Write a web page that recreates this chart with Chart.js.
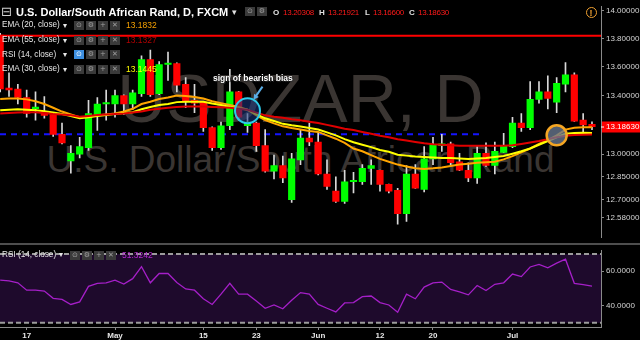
<!DOCTYPE html>
<html><head><meta charset="utf-8">
<script src="https://cdn.jsdelivr.net/npm/chart.js@4.4.1/dist/chart.umd.min.js"></script>
<style>
html,body{margin:0;padding:0;background:#fff;width:640px;height:343px;overflow:hidden;}
#wrap{position:relative;width:640px;height:340px;background:#000;overflow:hidden;font-family:"Liberation Sans",Arial,sans-serif;}
canvas{position:absolute;left:0;}
#priceCanvas{top:0;z-index:1;}
#rsiCanvas{top:244px;z-index:1;}
.t{position:absolute;white-space:nowrap;z-index:3;}
.wm{position:absolute;left:0;width:601px;text-align:center;color:#3a3532;z-index:0;white-space:nowrap;}
.ib{position:absolute;width:10px;height:9px;background:#3a3a3a;color:#a0a0a0;font-family:"DejaVu Sans",sans-serif;font-size:7px;line-height:9px;text-align:center;z-index:3;}
#sep{position:absolute;left:0;top:243px;width:640px;height:2px;background:#4e4e4e;z-index:2;}
</style></head><body>
<div id="wrap">
 <div class="wm" style="font-size:68px;line-height:68px;top:64px;">USDZAR, D</div>
 <div class="wm" style="font-size:37px;line-height:37px;top:141px;">U.S. Dollar/South African Rand</div>
 <canvas id="priceCanvas" width="640" height="244"></canvas>
 <canvas id="rsiCanvas" width="640" height="96"></canvas>
 <div id="sep"></div>
</div>
<script>
// ---------------- data ----------------
const dates = ['2017-04-12','2017-04-13','2017-04-14','2017-04-17','2017-04-18','2017-04-19','2017-04-20','2017-04-21','2017-04-24','2017-04-25','2017-04-26','2017-04-27','2017-04-28','2017-05-01','2017-05-02','2017-05-03','2017-05-04','2017-05-05','2017-05-08','2017-05-09','2017-05-10','2017-05-11','2017-05-12','2017-05-15','2017-05-16','2017-05-17','2017-05-18','2017-05-19','2017-05-22','2017-05-23','2017-05-24','2017-05-25','2017-05-26','2017-05-29','2017-05-30','2017-05-31','2017-06-01','2017-06-02','2017-06-05','2017-06-06','2017-06-07','2017-06-08','2017-06-09','2017-06-12','2017-06-13','2017-06-14','2017-06-15','2017-06-16','2017-06-19','2017-06-20','2017-06-21','2017-06-22','2017-06-23','2017-06-26','2017-06-27','2017-06-28','2017-06-29','2017-06-30','2017-07-03','2017-07-04','2017-07-05','2017-07-06','2017-07-07','2017-07-10','2017-07-11','2017-07-12','2017-07-13','2017-07-14'];

const openP = [13.825,13.452,13.446,13.387,13.310,13.290,13.270,13.134,12.956,13.001,13.045,13.270,13.342,13.342,13.400,13.342,13.413,13.651,13.413,13.617,13.624,13.479,13.368,13.355,13.180,13.045,13.193,13.426,13.193,13.212,13.058,12.887,12.925,12.699,12.962,13.109,13.083,12.868,12.755,12.687,12.817,12.817,12.906,12.893,12.799,12.761,12.607,12.868,12.767,12.969,13.058,13.070,12.950,12.893,12.843,13.007,12.925,13.013,13.052,13.212,13.180,13.374,13.426,13.355,13.479,13.545,13.231,13.20308];
const highP = [13.838,13.558,13.479,13.439,13.426,13.394,13.277,13.212,13.058,13.115,13.368,13.387,13.439,13.439,13.406,13.439,13.678,13.718,13.637,13.704,13.628,13.525,13.479,13.358,13.186,13.218,13.584,13.430,13.277,13.218,13.167,12.994,12.988,13.007,13.167,13.212,13.147,12.962,12.849,12.893,12.880,12.931,12.962,12.895,12.801,12.774,12.925,12.931,13.052,13.115,13.134,13.083,13.007,12.943,13.052,13.077,13.083,13.141,13.251,13.277,13.498,13.498,13.538,13.525,13.631,13.558,13.277,13.21921];
const lowP = [13.426,13.394,13.342,13.251,13.231,13.244,13.121,13.070,12.874,12.975,13.026,13.161,13.231,13.251,13.270,13.303,13.394,13.394,13.406,13.505,13.426,13.316,13.283,13.154,13.026,13.032,13.167,13.231,13.147,13.020,12.880,12.836,12.811,12.681,12.931,13.058,12.862,12.767,12.681,12.674,12.743,12.799,12.799,12.755,12.743,12.539,12.557,12.772,12.749,12.931,13.020,12.931,12.891,12.817,12.805,12.918,12.868,13.011,13.045,13.154,13.167,13.348,13.309,13.283,13.426,13.223,13.147,13.16600];
const closeP = [13.446,13.439,13.387,13.277,13.316,13.264,13.134,13.077,13.007,13.052,13.277,13.342,13.348,13.400,13.342,13.419,13.651,13.406,13.617,13.624,13.472,13.361,13.348,13.180,13.045,13.193,13.426,13.251,13.218,13.058,12.887,12.925,12.843,12.969,13.109,13.083,12.868,12.786,12.687,12.817,12.824,12.906,12.925,12.799,12.755,12.607,12.868,12.774,12.969,13.064,13.070,12.943,12.893,12.843,13.007,12.925,13.020,13.058,13.212,13.180,13.374,13.426,13.381,13.485,13.545,13.225,13.199,13.18630];

const ema20 = [13.377,13.380,13.380,13.374,13.361,13.342,13.316,13.290,13.270,13.251,13.254,13.264,13.270,13.277,13.290,13.309,13.342,13.358,13.377,13.387,13.400,13.397,13.390,13.380,13.361,13.348,13.335,13.322,13.303,13.264,13.231,13.209,13.189,13.177,13.167,13.157,13.151,13.128,13.105,13.077,13.039,13.020,12.994,12.969,12.950,12.931,12.918,12.906,12.902,12.906,12.912,12.921,12.931,12.937,12.943,12.947,12.950,12.966,12.988,13.013,13.039,13.070,13.096,13.128,13.167,13.180,13.183,13.1832];
const ema30 = [13.299,13.303,13.306,13.303,13.299,13.293,13.283,13.273,13.260,13.244,13.251,13.260,13.267,13.273,13.280,13.286,13.306,13.322,13.335,13.342,13.355,13.358,13.358,13.358,13.345,13.335,13.322,13.312,13.303,13.273,13.244,13.225,13.206,13.196,13.188,13.177,13.167,13.148,13.128,13.102,13.081,13.064,13.048,13.029,13.017,12.997,12.991,12.985,12.981,12.978,12.975,12.975,12.972,12.969,12.972,12.975,12.981,12.988,13.004,13.020,13.039,13.064,13.089,13.115,13.138,13.144,13.145,13.1445];
const ema55 = [13.277,13.280,13.283,13.286,13.286,13.280,13.273,13.270,13.264,13.254,13.260,13.267,13.270,13.273,13.277,13.283,13.290,13.303,13.309,13.316,13.322,13.325,13.325,13.325,13.322,13.319,13.316,13.309,13.303,13.283,13.264,13.254,13.248,13.238,13.231,13.221,13.212,13.199,13.186,13.173,13.164,13.151,13.138,13.125,13.115,13.102,13.093,13.083,13.074,13.067,13.064,13.061,13.058,13.058,13.058,13.058,13.058,13.058,13.061,13.070,13.080,13.089,13.102,13.115,13.125,13.130,13.132,13.1327];
const rsi14 = [54.8,54.4,53.3,49.0,49.0,48.5,44.3,43.6,40.7,42.2,51.2,53.0,53.3,54.8,52.6,55.7,62.7,53.3,58.7,58.7,53.5,49.7,49.0,44.0,40.7,46.7,53.0,46.7,46.7,42.7,38.5,40.4,38.2,43.1,47.6,46.7,40.7,38.5,36.4,41.6,41.8,45.2,45.6,41.8,40.4,36.2,46.7,44.0,50.8,53.3,53.7,49.4,48.0,46.3,51.7,48.8,52.4,53.3,58.4,56.9,62.5,64.0,62.0,64.7,67.0,53.0,52.2,51.3];

const priceTicks = [14.0, 13.8, 13.6, 13.4, 13.0, 12.85, 12.70, 12.58];
const rsiTicks = [60, 40];
const rsiBands = [70, 30];
const dateTickDates = ['2017-04-17','2017-05-01','2017-05-15','2017-05-23','2017-06-01','2017-06-12','2017-06-20','2017-07-03'];
const dateTickLabels = ['17','May','15','23','Jun','12','20','Jul'];
const resistanceLevel = 13.82;
const supportLevel = 13.135;
const supportEndDate = '2017-06-27';
const bearishMark = {date:'2017-05-22', value:13.296};
const crossMark = {date:'2017-07-10', value:13.128};
const legendValues = {ema20:'13.1832', ema55:'13.1327', ema30:'13.1445', rsi:'51.3242'};
const ohlcLast = ['13.20308','13.21921','13.16600','13.18630'];

// ---------------- layout helpers ----------------
const wrap = document.getElementById('wrap');
const FONT = '"Liberation Sans", Arial, sans-serif';
function txt(s, x, base, size, color, weight, extra){
  const d = document.createElement('div');
  d.className = 't';
  d.textContent = s;
  d.style.left = x + 'px';
  d.style.fontSize = size + 'px';
  d.style.lineHeight = size + 'px';
  d.style.top = (base - 0.8465*size) + 'px';
  d.style.color = color;
  if (weight) d.style.fontWeight = weight;
  if (extra) Object.assign(d.style, extra);
  wrap.appendChild(d);
  return d;
}
function ibox(x, y, glyph, bg, col){
  const d = document.createElement('div');
  d.className = 'ib';
  d.style.left = x + 'px'; d.style.top = y + 'px';
  if (bg) d.style.background = bg;
  if (col) d.style.color = col;
  d.textContent = glyph;
  wrap.appendChild(d);
}
const glyphs = ['\u2299','\u2699','+','\u2715'];
const tight = {letterSpacing:'-0.3px'};

// header
txt('\u229F', 1, 16.5, 13, '#d0d0d0', 'normal', {fontFamily:'"DejaVu Sans",sans-serif'});
txt('U.S. Dollar/South African Rand, D, FXCM', 16, 16.5, 11, '#ffffff', 'bold');
txt('\u25BE', 232, 16, 9, '#e0e0e0');
ibox(245, 7, '\u2299'); ibox(257, 7, '\u2699');
txt('O', 273, 15.5, 8, '#e0e0e0', 'bold'); txt(ohlcLast[0], 283, 15.5, 8, '#ff1a1a', null, tight);
txt('H', 319, 15.5, 8, '#e0e0e0', 'bold'); txt(ohlcLast[1], 328, 15.5, 8, '#ff1a1a', null, tight);
txt('L', 365, 15.5, 8, '#e0e0e0', 'bold'); txt(ohlcLast[2], 373, 15.5, 8, '#ff1a1a', null, tight);
txt('C', 409, 15.5, 8, '#e0e0e0', 'bold'); txt(ohlcLast[3], 418, 15.5, 8, '#ff1a1a', null, tight);
const warn = txt('!', 585.5, 16, 9, '#f0a030', 'bold', {width:'11px',height:'11px',lineHeight:'11px',textAlign:'center',border:'1.5px solid #f0a030',borderRadius:'50%',boxSizing:'border-box'});
warn.style.top = '6.5px';

// indicator legends
const rows = [
  ['EMA (20, close)', 28.3, legendValues.ema20, '#f5a000'],
  ['EMA (55, close)', 43.3, legendValues.ema55, '#b00000'],
  ['RSI (14, close)', 57.5, null, null],
  ['EMA (30, close)', 72, legendValues.ema30, '#ffff00']
];
rows.forEach((r, k) => {
  txt(r[0], 2, r[1], 8.2, '#e6e6e6');
  txt('\u25BE', 63, r[1], 7.5, '#e6e6e6');
  glyphs.forEach((g, j) => ibox(74 + 12*j, r[1] - 7.3, g, (k === 2 && j === 0) ? '#3d8fe0' : null, (k === 2 && j === 0) ? '#ffffff' : null));
  if (r[2]) txt(r[2], 126, r[1], 8.5, r[3]);
});
// RSI pane legend
txt('RSI (14, close)', 2, 257.7, 8.2, '#e6e6e6');
txt('\u25BE', 59, 257.7, 7.5, '#e6e6e6');
glyphs.forEach((g, j) => ibox(70 + 12*j, 250.5, g));
txt(legendValues.rsi, 122, 257.7, 8.5, '#b428d0');
// annotation
txt('sign of bearish bias', 213, 81.5, 8.5, '#ffffff', 'bold', {textShadow:'0 0 2px #000, 1px 1px 1px #333'});

// ---------------- charts ----------------
const N = dates.length;
const X_MIN = -0.02, X_MAX = 68.02;
const fixW = s => { s.width = 39; };
const tickFont = {family: FONT, size: 8};

const bodies = dates.map((d, i) => ({x: i, y: [openP[i], closeP[i]]}));
const wicks = dates.map((d, i) => ({x: i, y: [lowP[i], highP[i]]}));
const bodyColors = dates.map((d, i) => closeP[i] >= openP[i] ? '#00ff00' : '#ff0000');
const series = arr => arr.map((v, i) => ({x: i, y: v}));

const pricePlugin = {
  id: 'pricePlugin',
  beforeDatasetsDraw(chart){
    const {ctx, chartArea: a, scales: {x, y}} = chart;
    ctx.save();
    const yr = y.getPixelForValue(resistanceLevel);
    ctx.strokeStyle = '#ff0000'; ctx.lineWidth = 2;
    ctx.beginPath(); ctx.moveTo(a.left, yr); ctx.lineTo(a.right, yr); ctx.stroke();
    const ys = y.getPixelForValue(supportLevel);
    ctx.strokeStyle = '#1414ff'; ctx.lineWidth = 2; ctx.setLineDash([6, 5]);
    ctx.beginPath(); ctx.moveTo(a.left, ys); ctx.lineTo(x.getPixelForValue(dates.indexOf(supportEndDate)) + 3, ys); ctx.stroke();
    ctx.restore();
  },
  afterDatasetsDraw(chart){
    const {ctx, scales: {x, y}} = chart;
    ctx.save();
    const cx = x.getPixelForValue(dates.indexOf(bearishMark.date));
    const cy = y.getPixelForValue(bearishMark.value);
    ctx.beginPath(); ctx.arc(cx, cy, 12.5, 0, Math.PI*2);
    ctx.fillStyle = 'rgba(25,55,130,0.55)'; ctx.fill();
    ctx.strokeStyle = '#2ccbea'; ctx.lineWidth = 2; ctx.stroke();
    const tx = cx + 6, ty = cy - 11, sx = cx + 15, sy = cy - 24;
    ctx.strokeStyle = '#5aaee6'; ctx.fillStyle = '#5aaee6'; ctx.lineWidth = 2;
    ctx.beginPath(); ctx.moveTo(sx, sy); ctx.lineTo(tx + 2, ty - 3); ctx.stroke();
    const ang = Math.atan2(ty - sy, tx - sx);
    ctx.beginPath(); ctx.moveTo(tx, ty);
    ctx.lineTo(tx - 6*Math.cos(ang - 0.5), ty - 6*Math.sin(ang - 0.5));
    ctx.lineTo(tx - 6*Math.cos(ang + 0.5), ty - 6*Math.sin(ang + 0.5));
    ctx.closePath(); ctx.fill();
    const qx = x.getPixelForValue(dates.indexOf(crossMark.date));
    const qy = y.getPixelForValue(crossMark.value);
    ctx.beginPath(); ctx.arc(qx, qy, 10, 0, Math.PI*2);
    ctx.fillStyle = 'rgba(105,120,145,0.78)'; ctx.fill();
    ctx.strokeStyle = '#f5a623'; ctx.lineWidth = 2.5; ctx.stroke();
    ctx.restore();
  },
  afterDraw(chart){
    const {ctx, chartArea: a, scales: {y}} = chart;
    const v = closeP[N - 1];
    const py = y.getPixelForValue(v);
    ctx.save();
    ctx.fillStyle = '#ff0000';
    ctx.fillRect(a.right + 1, Math.round(py) - 5.5, 39, 11);
    ctx.fillStyle = '#ffffff'; ctx.fillRect(a.right, Math.round(py) - 0.5, 3, 1);
    ctx.font = '8px ' + FONT; ctx.textAlign = 'left'; ctx.textBaseline = 'middle';
    ctx.fillText(v.toFixed(5), a.right + 5, py + 0.5);
    ctx.restore();
  }
};

new Chart(document.getElementById('priceCanvas'), {
  type: 'bar',
  data: {
    datasets: [
      {type: 'line', label: 'EMA 55', data: series(ema55), borderColor: '#e00000', borderWidth: 2, pointRadius: 0, order: 0},
      {type: 'line', label: 'EMA 30', data: series(ema30), borderColor: '#ffff00', borderWidth: 2, pointRadius: 0, order: 0},
      {type: 'line', label: 'EMA 20', data: series(ema20), borderColor: '#ffa500', borderWidth: 2, pointRadius: 0, order: 0},
      {label: 'body', data: bodies, backgroundColor: bodyColors, barThickness: 6.5, grouped: false, minBarLength: 1.5, order: 1},
      {label: 'wick', data: wicks, backgroundColor: '#d8d8d8', barThickness: 1, grouped: false, order: 2}
    ]
  },
  options: {
    responsive: false, animation: false, devicePixelRatio: 1,
    layout: {padding: 0},
    plugins: {legend: {display: false}, tooltip: {enabled: false}},
    scales: {
      x: {type: 'linear', min: X_MIN, max: X_MAX, offset: false, display: false, grid: {offset: false}},
      y: {
        type: 'logarithmic', position: 'right', min: 12.455, max: 14.029, beginAtZero: false,
        afterBuildTicks: s => { s.ticks = priceTicks.map(v => ({value: v})); },
        afterFit: fixW,
        ticks: {callback: v => Number(v).toFixed(5), color: '#d4d4d4', font: tickFont, padding: 2, autoSkip: false},
        grid: {drawOnChartArea: false, drawTicks: true, tickLength: 3, color: '#8a8a8a'},
        border: {display: true, color: '#8a8a8a', width: 1}
      }
    }
  },
  plugins: [pricePlugin]
});

const rsiPlugin = {
  id: 'rsiPlugin',
  beforeDatasetsDraw(chart){
    const {ctx, chartArea: a, scales: {y}} = chart;
    const y1 = y.getPixelForValue(rsiBands[0]), y2 = y.getPixelForValue(rsiBands[1]);
    ctx.save();
    ctx.fillStyle = '#1e0a2c';
    ctx.fillRect(a.left, y1, a.right - a.left, y2 - y1);
    ctx.strokeStyle = '#9c9c9c'; ctx.lineWidth = 2; ctx.setLineDash([5, 3]);
    [y1, y2].forEach(p => { ctx.beginPath(); ctx.moveTo(a.left, p); ctx.lineTo(a.right, p); ctx.stroke(); });
    ctx.restore();
  }
};

new Chart(document.getElementById('rsiCanvas'), {
  type: 'line',
  data: {datasets: [{label: 'RSI', data: series(rsi14), borderColor: '#a51fc8', borderWidth: 1.3, pointRadius: 0}]},
  options: {
    responsive: false, animation: false, devicePixelRatio: 1,
    layout: {padding: {top: 1, left: 0, right: 0, bottom: 0}},
    plugins: {legend: {display: false}, tooltip: {enabled: false}},
    scales: {
      x: {
        type: 'linear', min: X_MIN, max: X_MAX, offset: false,
        afterBuildTicks: s => { s.ticks = dateTickDates.map(d => ({value: dates.indexOf(d)})); },
        afterFit: s => { s.height = 13; },
        ticks: {callback: (v, i) => dateTickLabels[i], color: '#e6e6e6', font: {family: FONT, size: 8, weight: 'bold'}, padding: 1, maxRotation: 0, autoSkip: false},
        grid: {drawOnChartArea: false, drawTicks: true, tickLength: 3, color: '#8a8a8a'},
        border: {display: true, color: '#8a8a8a', width: 1}
      },
      y: {
        type: 'linear', position: 'right', min: 27.6, max: 71.9,
        afterBuildTicks: s => { s.ticks = rsiTicks.map(v => ({value: v})); },
        afterFit: fixW,
        ticks: {callback: v => Number(v).toFixed(4), color: '#d4d4d4', font: tickFont, padding: 2, autoSkip: false},
        grid: {drawOnChartArea: false, drawTicks: true, tickLength: 3, color: '#8a8a8a'},
        border: {display: true, color: '#8a8a8a', width: 1}
      }
    }
  },
  plugins: [rsiPlugin]
});
</script>
</body></html>
